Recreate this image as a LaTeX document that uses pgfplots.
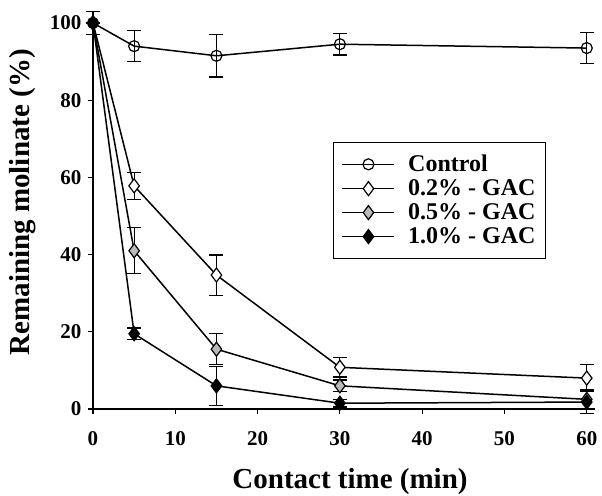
\documentclass[border=0pt]{standalone}
\usepackage{pgfplots}
\pgfplotsset{compat=1.18}
\usepackage{fontspec}
\setmainfont{Liberation Serif}
\pgfplotstableread{
x y e
0 100 3
5 94 4
15 91.5 5.5
30 94.5 2.8
60 93.5 4
}\control
\pgfplotstableread{
x y e
0 100 0
5 57.8 3.5
15 34.7 5.2
30 10.8 2.5
60 8 3.5
}\gacA
\pgfplotstableread{
x y e
0 100 0
5 41 6
15 15.5 4
30 6 1.5
60 2.5 2.5
}\gacB
\pgfplotstableread{
x y e
0 100 0
5 19.5 1.5
15 6 5
30 1.5 1
60 1.8 3
}\gacC
\begin{document}
\begin{tikzpicture}
\begin{axis}[
    scale only axis,
    width=502pt,height=397.6pt,
    xmin=0,xmax=61,ymin=0,ymax=103,
    axis lines=left,
    axis line style={-,line width=1.2pt},
    tick align=outside,
    tick style={line width=1.2pt,black},
    major tick length=5pt,
    xtick={0,10,...,60},ytick={0,20,...,100},
    /pgf/number format/assume math mode=true,
    ticklabel style={font=\fontsize{21}{23}\selectfont\bfseries},
    xticklabel style={yshift=-14pt},
    yticklabel style={xshift=-3pt},
    xlabel={Contact time (min)},
    ylabel={Remaining molinate (\%)},
    label style={font=\fontsize{29}{31}\selectfont\bfseries},
    xlabel style={at={(axis description cs:0.512,-0.199)},anchor=base},
    ylabel style={at={(axis description cs:-0.1255,0.52)},anchor=base},
    every axis plot/.append style={line width=1.5pt,black},
    error bars/y dir=both,
    error bars/y explicit,
    error bars/error bar style={line width=1.2pt},
    error bars/error mark options={rotate=90,mark size=7pt,line width=1.2pt},
    legend style={at={(axis cs:29.2,69.2)},anchor=north west,
        font=\fontsize{24}{26}\selectfont\bfseries,
        nodes={font=\fontsize{24}{26}\selectfont\bfseries,inner ysep=2pt},
        column sep=11pt,row sep=2.5pt,
        draw=black,line width=0.8pt,inner xsep=8pt,inner ysep=11pt},
    legend cell align=left,
    legend image code/.code={
        \draw[line width=1.5pt,mark repeat=2,mark phase=2] plot coordinates {(0pt,0pt)(26pt,0pt)(52pt,0pt)};
    },
    clip=false
]
\addplot[mark=o,mark size=5.5pt,mark options={fill=white,line width=1.2pt}]
    table[x=x,y=y,y error=e]{\control};
\addlegendentry{Control}
\addplot[mark=diamond*,mark size=7pt,mark options={fill=white,line width=1.2pt}]
    table[x=x,y=y,y error=e]{\gacA};
\addlegendentry{0.2\% - GAC}
\addplot[mark=diamond*,mark size=7pt,mark options={fill=gray!55,line width=1.2pt}]
    table[x=x,y=y,y error=e]{\gacB};
\addlegendentry{0.5\% - GAC}
\addplot[mark=diamond*,mark size=7pt,mark options={fill=black,line width=1.2pt}]
    table[x=x,y=y,y error=e]{\gacC};
\addlegendentry{1.0\% - GAC}
\coordinate (O) at (axis cs:0,0);
\end{axis}
\pgfresetboundingbox
\path[use as bounding box] ([shift={(-93pt,-86pt)}]O) rectangle ([shift={(509pt,409pt)}]O);
\end{tikzpicture}
\end{document}
